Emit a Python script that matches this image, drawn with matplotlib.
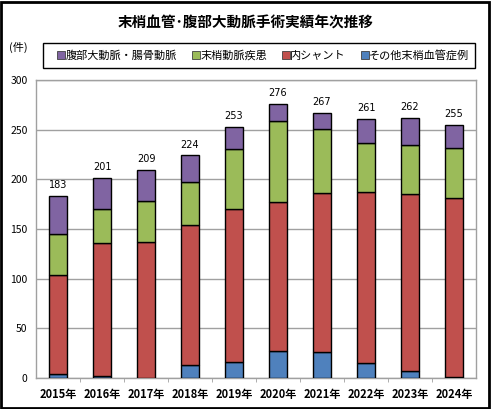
import numpy as np
import matplotlib.pyplot as plt
from matplotlib.patches import Rectangle
from matplotlib.lines import Line2D

plt.rcParams['font.family'] = ['Noto Sans CJK JP', 'DejaVu Sans']

years = ['2015年', '2016年', '2017年', '2018年', '2019年',
         '2020年', '2021年', '2022年', '2023年', '2024年']
other = [4, 2, 0, 13, 16, 27, 26, 15, 7, 1]            # その他末梢血管症例
shunt = [100, 134, 137, 141, 154, 150, 160, 172, 178, 180]  # 内シャント
pad = [41, 34, 41, 43, 61, 82, 65, 50, 50, 51]          # 末梢動脈疾患
aorta = [38, 31, 31, 27, 22, 17, 16, 24, 27, 23]        # 腹部大動脈・腸骨動脈
totals = [183, 201, 209, 224, 253, 276, 267, 261, 262, 255]

series = [('その他末梢血管症例', other, '#4F81BD'),
          ('内シャント', shunt, '#C0504D'),
          ('末梢動脈疾患', pad, '#9BBB59'),
          ('腹部大動脈・腸骨動脈', aorta, '#8064A2')]

fig = plt.figure(figsize=(4.91, 4.09), dpi=100)
ax = fig.add_axes([36 / 491, 31 / 409, 440 / 491, 298 / 409])

x = np.arange(len(years))
bottom = np.zeros(len(years))
for name, vals, col in series:
    ax.bar(x, vals, 0.41, bottom=bottom, color=col, edgecolor='black',
           linewidth=1.0, zorder=3)
    bottom += np.array(vals)

for xi, t in zip(x, totals):
    ax.text(xi, t + 6, str(t), ha='center', va='bottom', fontsize=7,
            family=['DejaVu Sans'])

ax.set_xlim(-0.5, len(years) - 0.5)
ax.set_ylim(0, 300)
ax.set_yticks(range(0, 301, 50))
ax.set_xticks(x)
ax.set_xticklabels(years, fontsize=8, fontweight='bold')
ax.set_xticks(np.arange(0.5, len(years) - 1, 1), minor=True)
ax.tick_params(axis='x', which='major', length=0, pad=7)
ax.tick_params(axis='x', which='minor', length=3, color='#A0A0A0', direction='out')
ax.tick_params(axis='y', length=0, labelsize=7.5, pad=6)
ax.grid(axis='y', color='#A0A0A0', linewidth=1.0, zorder=0)
for s in ax.spines.values():
    s.set_color('#A0A0A0')
    s.set_linewidth(1.0)

fig.text(0.5, 1 - 23 / 409, '末梢血管･腹部大動脈手術実績年次推移', ha='center',
         va='center', fontsize=10.5, fontweight='bold')
fig.text(9 / 491, 1 - 47 / 409, '(件)', ha='left', va='center', fontsize=8)

# legend box drawn separately so the entries can sit inset like the original
fig.patches.append(Rectangle((43 / 491, 1 - 68 / 409), 432 / 491, 25 / 409,
                             transform=fig.transFigure, fill=False,
                             edgecolor='black', linewidth=1.0))
handles = [Line2D([], [], marker='s', ls='none', markersize=5.5,
                  markerfacecolor=col, markeredgecolor='#404040', markeredgewidth=0.6)
           for _, _, col in series[::-1]]
labels = [name for name, _, _ in series[::-1]]
fig.legend(handles, labels, ncol=4, loc='center',
           bbox_to_anchor=(263 / 491, 1 - 55.5 / 409), fontsize=8,
           frameon=False, handletextpad=0.0, columnspacing=1.3,
           handlelength=0.8, borderpad=0, borderaxespad=0)

fig.patches.append(Rectangle((0.002, 0.002), 0.994, 0.994, transform=fig.transFigure,
                             fill=False, edgecolor='black', linewidth=2))

fig.savefig('out.png', dpi=100)
